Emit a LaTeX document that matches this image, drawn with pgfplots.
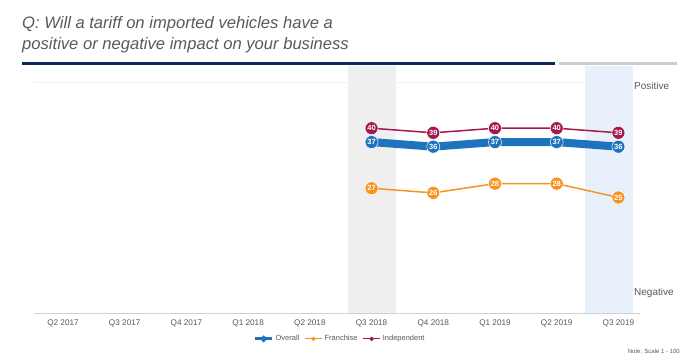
\documentclass[border=0pt]{standalone}
\usepackage{pgfplots}
\pgfplotsset{compat=1.18}
\usepackage{fontspec}
\setmainfont{Liberation Sans}
\definecolor{cOver}{HTML}{1F73BE}
\definecolor{cFran}{HTML}{F7931E}
\definecolor{cInd}{HTML}{A3194B}
\definecolor{txt}{HTML}{595959}
\definecolor{navy}{HTML}{0D2A5A}
\definecolor{bandgray}{HTML}{EFEFEF}
\definecolor{bandblue}{HTML}{E8F0FB}
\begin{document}
\begin{tikzpicture}
\path (0pt,0pt) rectangle (684pt,359pt);
\node[anchor=north west, align=left, text=txt, font=\fontsize{16.6}{21}\selectfont\itshape, inner sep=0] at (22pt,343pt) {Q: Will a tariff on imported vehicles have a\\positive or negative impact on your business};
\draw[navy, line width=3pt] (22pt,295pt) -- (555pt,295pt);
\draw[gray!40, line width=3pt] (559pt,295pt) -- (677pt,295pt);
\begin{axis}[
  at={(34pt,46pt)}, anchor=south west,
  scale only axis, width=606pt, height=231pt,
  xmin=-0.47, xmax=9.35, ymin=0, ymax=50,
  clip=false,
  axis line style={draw=none},
  ytick=\empty,
  xtick={0,...,9},
  xticklabels={Q2 2017,Q3 2017,Q4 2017,Q1 2018,Q2 2018,Q3 2018,Q4 2018,Q1 2019,Q2 2019,Q3 2019},
  major tick length=0pt,
  x tick label style={font=\fontsize{8.2}{9}\selectfont, text=txt, yshift=-3pt},
  /pgf/number format/assume math mode=true,
  nodes near coords,
  every node near coord/.append style={anchor=center, text=white, font=\fontsize{7.5}{8}\selectfont\bfseries},
  legend style={at={(0.505,-0.112)}, anchor=center, draw=none, legend columns=3, font=\fontsize{7.5}{9}\selectfont, text=txt, /tikz/every even column/.append style={column sep=3pt}},
  legend cell align=left,
]
\fill[bandgray] (axis cs:4.62,0) rectangle (axis cs:5.40,53.5);
\fill[bandblue] (axis cs:8.46,0) rectangle (axis cs:9.24,53.5);
\draw[gray!12] (rel axis cs:0,1) -- (rel axis cs:0.985,1);
\draw[gray!35] (rel axis cs:0,0) -- (rel axis cs:1,0);
\addlegendimage{cOver, line width=3pt, mark=*, mark size=1.5pt}
\addlegendentry{Overall}
\addlegendimage{cFran, line width=1.2pt, mark=*, mark size=1.5pt}
\addlegendentry{Franchise}
\addlegendimage{cInd, line width=1.2pt, mark=*, mark size=1.5pt}
\addlegendentry{Independent}
\addplot[cOver, line width=8pt, mark=*, mark size=6.5pt, mark options={line width=0.5pt, draw=white}, forget plot] coordinates {(5,37) (6,36) (7,37) (8,37) (9,36)};
\addplot[cFran, line width=1.5pt, mark=*, mark size=6.5pt, mark options={line width=0.5pt, draw=white}, forget plot] coordinates {(5,27) (6,26) (7,28) (8,28) (9,25)};
\addplot[cInd, line width=1.5pt, mark=*, mark size=6.5pt, mark options={line width=0.5pt, draw=white}, forget plot] coordinates {(5,40) (6,39) (7,40) (8,40) (9,39)};
\end{axis}
\node[anchor=west, text=txt, font=\fontsize{10}{12}\selectfont, inner sep=0] at (634pt,273pt) {Positive};
\node[anchor=west, text=txt, font=\fontsize{10}{12}\selectfont, inner sep=0] at (634pt,66pt) {Negative};
\node[anchor=east, text=txt, font=\fontsize{6}{7}\selectfont, inner sep=0] at (680pt,8pt) {Note: Scale 1 - 100};
\end{tikzpicture}
\end{document}
